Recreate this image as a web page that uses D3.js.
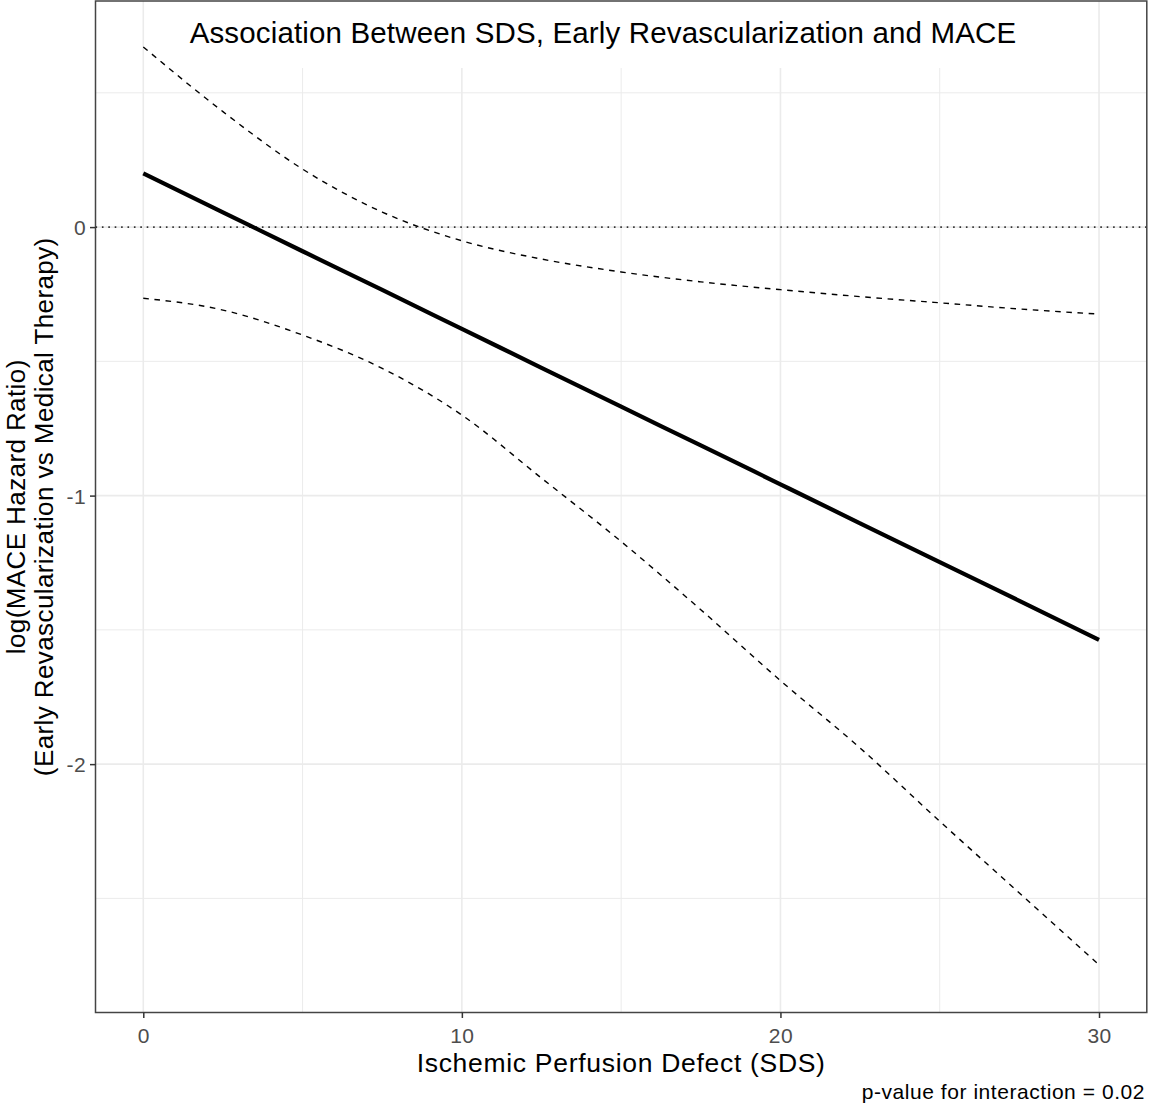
<!DOCTYPE html>
<html>
<head>
<meta charset="utf-8">
<script src="https://cdn.jsdelivr.net/npm/d3@7"></script>
<style>
  body { margin: 0; background: #fff; }
  text { font-family: "Liberation Sans", Arial, sans-serif; }
</style>
</head>
<body>
<svg id="chart" width="1150" height="1113"></svg>
<script>
// SDS values the model was evaluated at
var sds = [0, 2.5, 5, 7.5, 10, 12.5, 15, 17.5, 20, 22.5, 25, 27.5, 30];

// log hazard ratio estimate and its confidence band
var estimate = [0.200, 0.055, -0.090, -0.234, -0.379, -0.524, -0.669, -0.813, -0.958, -1.103, -1.248, -1.392, -1.537];
var upper = [0.671, 0.430, 0.216, 0.056, -0.051, -0.119, -0.167, -0.204, -0.233, -0.259, -0.282, -0.305, -0.324];
var lower = [-0.265, -0.309, -0.402, -0.526, -0.700, -0.935, -1.171, -1.425, -1.689, -1.940, -2.213, -2.480, -2.747];

var xMajor = [0, 10, 20, 30],
    xMinor = [5, 15, 25],
    yMajor = [-2, -1, 0],
    yMinor = [-2.5, -1.5, -0.5, 0.5];

var titleText = "Association Between SDS, Early Revascularization and MACE",
    xTitle = "Ischemic Perfusion Defect (SDS)",
    yTitle = ["log(MACE Hazard Ratio)", "(Early Revascularization vs Medical Therapy)"],
    caption = "p-value for interaction = 0.02";

var svg = d3.select("#chart");

var panel = { left: 95.5, right: 1146.8, top: 1, bottom: 1012.5 };

// ggplot style 5% expansion on both scales
var x = d3.scaleLinear().domain([-1.5, 31.5]).range([panel.left, panel.right]),
    y = d3.scaleLinear().domain([-2.925, 0.842]).range([panel.bottom, panel.top]);

var grid = svg.append("g");

grid.selectAll(".xminor").data(xMinor).enter().append("line")
  .attr("x1", function(d) { return x(d); })
  .attr("x2", function(d) { return x(d); })
  .attr("y1", panel.top).attr("y2", panel.bottom)
  .attr("stroke", "#ebebeb").attr("stroke-width", 1);

grid.selectAll(".yminor").data(yMinor).enter().append("line")
  .attr("y1", function(d) { return y(d); })
  .attr("y2", function(d) { return y(d); })
  .attr("x1", panel.left).attr("x2", panel.right)
  .attr("stroke", "#ebebeb").attr("stroke-width", 1);

grid.selectAll(".xmajor").data(xMajor).enter().append("line")
  .attr("x1", function(d) { return x(d); })
  .attr("x2", function(d) { return x(d); })
  .attr("y1", panel.top).attr("y2", panel.bottom)
  .attr("stroke", "#ebebeb").attr("stroke-width", 1.6);

grid.selectAll(".ymajor").data(yMajor).enter().append("line")
  .attr("y1", function(d) { return y(d); })
  .attr("y2", function(d) { return y(d); })
  .attr("x1", panel.left).attr("x2", panel.right)
  .attr("stroke", "#ebebeb").attr("stroke-width", 1.6);

// reference line at zero
svg.append("line")
  .attr("x1", panel.left).attr("x2", panel.right)
  .attr("y1", y(0)).attr("y2", y(0))
  .attr("stroke", "#333").attr("stroke-width", 1.6)
  .attr("stroke-dasharray", "1.6,4.8");

// title sits inside the panel on a white label box
svg.append("rect")
  .attr("x", 180).attr("y", panel.top)
  .attr("width", 846).attr("height", 67)
  .attr("fill", "#fff");

svg.append("text")
  .attr("x", 603).attr("y", 42.5)
  .attr("text-anchor", "middle")
  .attr("font-size", 29.5)
  .attr("letter-spacing", 0.15)
  .attr("fill", "#000")
  .text(titleText);

var line = d3.line()
  .x(function(d) { return x(d[0]); })
  .y(function(d) { return y(d[1]); })
  .curve(d3.curveMonotoneX);

var zip = function(vals) { return sds.map(function(s, i) { return [s, vals[i]]; }); };

[upper, lower].forEach(function(band) {
  svg.append("path")
    .attr("d", line(zip(band)))
    .attr("fill", "none")
    .attr("stroke", "#000")
    .attr("stroke-width", 1.4)
    .attr("stroke-dasharray", "5.6,5.6");
});

svg.append("path")
  .attr("d", line(zip(estimate)))
  .attr("fill", "none")
  .attr("stroke", "#000")
  .attr("stroke-width", 4.2);

// panel border
svg.append("rect")
  .attr("x", panel.left).attr("y", panel.top)
  .attr("width", panel.right - panel.left)
  .attr("height", panel.bottom - panel.top)
  .attr("fill", "none")
  .attr("stroke", "#444")
  .attr("stroke-width", 1.5);

// axes
var xAxis = svg.append("g")
  .attr("transform", "translate(0," + panel.bottom + ")")
  .call(d3.axisBottom(x).tickValues(xMajor).tickSize(5.5).tickPadding(8));

var yAxis = svg.append("g")
  .attr("transform", "translate(" + panel.left + ",0)")
  .call(d3.axisLeft(y).tickValues(yMajor).tickSize(5.5).tickPadding(4)
    .tickFormat(function(d) { return d3.format("d")(d).replace("\u2212", "-"); }));

[xAxis, yAxis].forEach(function(ax) {
  ax.select(".domain").remove();
  ax.selectAll(".tick line").attr("stroke", "#333").attr("stroke-width", 1.5);
  ax.selectAll(".tick text")
    .attr("font-size", 21)
    .attr("letter-spacing", 0.4)
    .attr("fill", "#4d4d4d")
    .style("font-family", "'Liberation Sans', Arial, sans-serif");
});

xAxis.selectAll(".tick text").attr("dy", null).attr("y", 30);
yAxis.selectAll(".tick text").attr("dy", "0.36em");

// axis titles
svg.append("text")
  .attr("x", (panel.left + panel.right) / 2)
  .attr("y", 1072)
  .attr("text-anchor", "middle")
  .attr("font-size", 26.5)
  .attr("letter-spacing", 0.7)
  .attr("fill", "#000")
  .text(xTitle);

var yMid = (panel.top + panel.bottom) / 2;
svg.selectAll(".ytitle").data(yTitle).enter().append("text")
  .attr("transform", function(d, i) {
    return "translate(" + (24.5 + i * 28.5) + "," + yMid + ") rotate(-90)";
  })
  .attr("text-anchor", "middle")
  .attr("font-size", 26)
  .attr("letter-spacing", 0.4)
  .attr("fill", "#000")
  .text(function(d) { return d; });

svg.append("text")
  .attr("x", 1145).attr("y", 1099)
  .attr("text-anchor", "end")
  .attr("font-size", 21)
  .attr("letter-spacing", 0.55)
  .attr("fill", "#000")
  .text(caption);
</script>
</body>
</html>
